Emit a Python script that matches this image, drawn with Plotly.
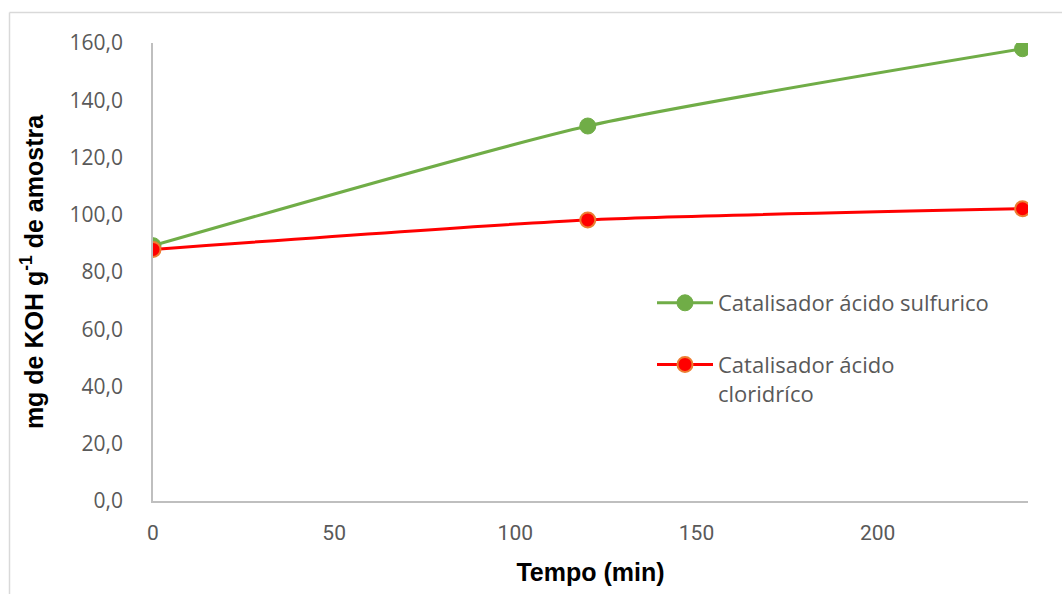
import plotly.graph_objects as go

tempo = [0, 120, 240]
sulfurico = [89.2, 131.0, 158.0]
cloridrico = [87.9, 98.2, 102.1]
name_s = "Catalisador ácido sulfurico"
name_c = "Catalisador ácido<br>cloridríco"
x_ticks = [0, 50, 100, 150, 200]
y_ticks = [0, 20, 40, 60, 80, 100, 120, 140, 160]

W, H = 1062, 594
L, R, T, B = 153, 34, 43, 93

fig = go.Figure()
fig.add_trace(go.Scatter(
    x=tempo, y=sulfurico, name=name_s, mode="lines+markers",
    line=dict(color="#70AD47", width=3, shape="spline", smoothing=0.6),
    marker=dict(color="#70AD47", size=16, line=dict(color="#70AD47", width=1)),
    legendgroup="a"))
fig.add_trace(go.Scatter(
    x=tempo, y=cloridrico, name=name_c, mode="lines+markers",
    line=dict(color="#FF0000", width=3, shape="spline", smoothing=0.6),
    marker=dict(color="#FF0000", size=15, line=dict(color="#ED7D31", width=2)),
    legendgroup="b"))

pw = W - L - R
ph = H - T - B
fig.update_layout(
    width=W, height=H,
    margin=dict(l=L, r=R, t=T, b=B, pad=0),
    paper_bgcolor="white", plot_bgcolor="white",
    showlegend=True,
    legend=dict(x=(652 - L) / pw, y=(501 - 282) / ph, xanchor="left", yanchor="top",
                font=dict(family="Open Sans", size=22, color="#595959"),
                traceorder="grouped", tracegroupgap=30, itemwidth=56, valign="top",
                bgcolor="rgba(0,0,0,0)"),
    xaxis=dict(range=[0, 241.5], tickvals=x_ticks, ticktext=[str(v) for v in x_ticks],
               showgrid=False, zeroline=False, showline=True, linecolor="#BFBFBF", linewidth=1.5,
               ticks="outside", ticklen=12, tickcolor="rgba(0,0,0,0)",
               tickfont=dict(family="Roboto", size=21, color="#595959"),
               title=dict(text="Tempo (min)", standoff=20,
                          font=dict(family="Liberation Sans", size=25, color="black", weight="bold"))),
    yaxis=dict(range=[0, 160], tickvals=y_ticks,
               ticktext=[f"{v:.1f}".replace(".", ",") for v in y_ticks],
               showgrid=False, zeroline=False, showline=True, linecolor="#BFBFBF", linewidth=1.5,
               ticks="outside", ticklen=24, tickcolor="rgba(0,0,0,0)",
               tickfont=dict(family="Open Sans", size=21, color="#595959"),
               title=dict(text="mg de KOH g<sup>-1</sup> de amostra", standoff=19,
                          font=dict(family="Liberation Sans", size=25, color="black", weight="bold"))),
)

# chart area border (top and left edges visible)
x0 = (9.5 - L) / pw
y1 = (H - B - 12.5) / ph
fig.add_shape(type="line", xref="paper", yref="paper", x0=x0, x1=1.2, y0=y1, y1=y1,
              line=dict(color="#D9D9D9", width=1.5))
fig.add_shape(type="line", xref="paper", yref="paper", x0=x0, x1=x0, y0=y1, y1=-0.3,
              line=dict(color="#D9D9D9", width=1.5))

fig.write_html("out.html")
